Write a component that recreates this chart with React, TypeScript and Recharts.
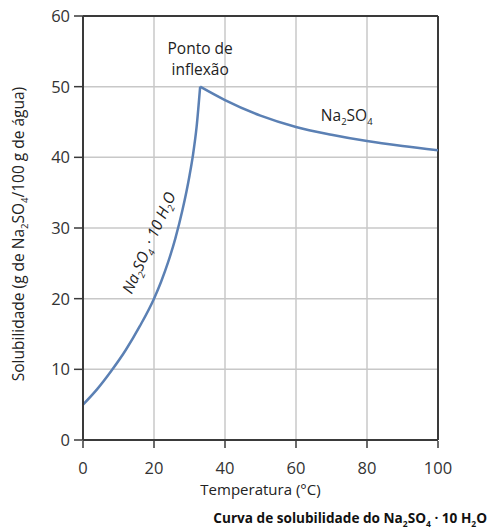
import React from "react"
import {
  LineChart,
  Line,
  XAxis,
  YAxis,
  CartesianGrid,
  ReferenceLine,
  ReferenceDot,
  Label,
} from "recharts"

// Na2SO4 · 10 H2O branch (below the transition point)
const hydrateTemps = [0, 4, 8, 12, 16, 20, 22, 24, 26, 28, 30, 31, 32, 33]
const hydrateSol = [5, 7.2, 9.8, 12.7, 16.1, 20, 22.4, 25.2, 28.5, 32.5, 37.4, 40.4, 44.3, 50]

// anhydrous Na2SO4 branch
const anhydTemps = [33, 40, 50, 60, 70, 80, 90, 100]
const anhydSol = [50, 48.1, 45.9, 44.3, 43.2, 42.3, 41.6, 41.0]

const xTicks = [0, 20, 40, 60, 80, 100]
const yTicks = [0, 10, 20, 30, 40, 50, 60]

const hydrate = hydrateTemps.map((t, i) => ({ t, s: hydrateSol[i] }))
const anhyd = anhydTemps.map((t, i) => ({ t, s: anhydSol[i] }))

const FONT = "'Open Sans', sans-serif"
const AXIS = "#3a3a3a"
const CURVE = "#5b80b4"

function XTick(props: any) {
  const { x, y, payload } = props
  return (
    <g>
      <line x1={x} x2={x} y1={y} y2={y - 7} stroke={AXIS} strokeWidth={1.5} />
      <text x={x} y={y + 26} textAnchor="middle" fontSize={16.5} fill="#333" fontFamily={FONT}>
        {payload.value}
      </text>
    </g>
  )
}

function YTick(props: any) {
  const { x, y, payload } = props
  return (
    <text x={x - 2} y={y + 6} textAnchor="end" fontSize={16.5} fill="#333" fontFamily={FONT}>
      {payload.value}
    </text>
  )
}

export default function App() {
  return (
    <div style={{ position: "absolute", left: 0, top: 0, width: 491, height: 530, background: "#fff" }}>
      <LineChart
        width={491}
        height={530}
        margin={{ top: 16, right: 53, left: 0, bottom: 60 }}
      >
        <CartesianGrid stroke="#c8c8c8" strokeWidth={1.5} />
        <XAxis
          type="number"
          dataKey="t"
          domain={[0, 100]}
          ticks={xTicks}
          height={30}
          stroke={AXIS}
          strokeWidth={2}
          tickLine={false}
          tick={<XTick />}
          allowDataOverflow
        >
          <Label
            content={(p: any) => (
              <text
                x={p.viewBox.x + p.viewBox.width / 2}
                y={p.viewBox.y + 55}
                textAnchor="middle"
                fontSize={15}
                fill="#222"
                fontFamily={FONT}
              >
                Temperatura (°C)
              </text>
            )}
          />
        </XAxis>
        <YAxis
          type="number"
          dataKey="s"
          domain={[0, 60]}
          ticks={yTicks}
          width={83}
          stroke={AXIS}
          strokeWidth={2}
          tickSize={9}
          tickLine={{ stroke: AXIS, strokeWidth: 1.5 }}
          tick={<YTick />}
          allowDataOverflow
        >
          <Label
            content={(p: any) => {
              const cx = 24
              const cy = p.viewBox.y + p.viewBox.height / 2 + 6
              return (
                <text
                  x={cx}
                  y={cy}
                  transform={`rotate(-90 ${cx} ${cy})`}
                  textAnchor="middle"
                  fontSize={15.5}
                  fill="#222"
                  fontFamily={FONT}
                >
                  Solubilidade (g de Na
                  <tspan fontSize={9.5} dy={4}>2</tspan>
                  <tspan dy={-4}>SO</tspan>
                  <tspan fontSize={9.5} dy={4}>4</tspan>
                  <tspan dy={-4}>/100 g de água)</tspan>
                </text>
              )
            }}
          />
        </YAxis>
        <ReferenceLine y={60} stroke={AXIS} strokeWidth={2} />
        <ReferenceLine x={100} stroke={AXIS} strokeWidth={2} />
        <Line
          data={hydrate}
          dataKey="s"
          type="monotone"
          stroke={CURVE}
          strokeWidth={2.5}
          dot={false}
          isAnimationActive={false}
        />
        <Line
          data={anhyd}
          dataKey="s"
          type="monotone"
          stroke={CURVE}
          strokeWidth={2.5}
          dot={false}
          isAnimationActive={false}
        />
        <ReferenceDot
          x={33}
          y={50}
          r={0}
          stroke="none"
          label={(p: any) => {
            const cx = p.viewBox.x
            const cy = p.viewBox.y
            return (
              <text textAnchor="middle" fontSize={15.5} fill="#222" fontFamily={FONT}>
                <tspan x={cx} y={cy - 33}>Ponto de</tspan>
                <tspan x={cx} y={cy - 12}>inflexão</tspan>
              </text>
            )
          }}
        />
        <ReferenceDot
          x={67}
          y={45.2}
          r={0}
          stroke="none"
          label={(p: any) => (
            <text x={p.viewBox.x} y={p.viewBox.y} textAnchor="start" fontSize={15.5} fill="#222" fontFamily={FONT}>
              Na
              <tspan fontSize={9.5} dy={4}>2</tspan>
              <tspan dy={-4}>SO</tspan>
              <tspan fontSize={9.5} dy={4}>4</tspan>
            </text>
          )}
        />
        <ReferenceDot
          x={18.7}
          y={27.9}
          r={0}
          stroke="none"
          label={(p: any) => {
            const cx = p.viewBox.x
            const cy = p.viewBox.y
            return (
              <text
                x={cx}
                y={cy + 5}
                transform={`rotate(-66 ${cx} ${cy})`}
                textAnchor="middle"
                fontSize={15.5}
                fontStyle="italic"
                fill="#222"
                fontFamily={FONT}
              >
                Na
                <tspan fontSize={9.5} dy={4}>2</tspan>
                <tspan dy={-4}>SO</tspan>
                <tspan fontSize={9.5} dy={4}>4</tspan>
                <tspan dy={-4}> · 10 H</tspan>
                <tspan fontSize={9.5} dy={4}>2</tspan>
                <tspan dy={-4}>O</tspan>
              </text>
            )
          }}
        />
      </LineChart>
      <div
        style={{
          position: "absolute",
          right: 4,
          top: 508,
          fontFamily: FONT,
          fontWeight: 700,
          fontSize: 13.6,
          color: "#111",
          whiteSpace: "nowrap",
        }}
      >
        Curva de solubilidade do Na<sub style={{ fontSize: 8.5 }}>2</sub>SO<sub style={{ fontSize: 8.5 }}>4</sub> · 10 H
        <sub style={{ fontSize: 8.5 }}>2</sub>O
      </div>
    </div>
  )
}
